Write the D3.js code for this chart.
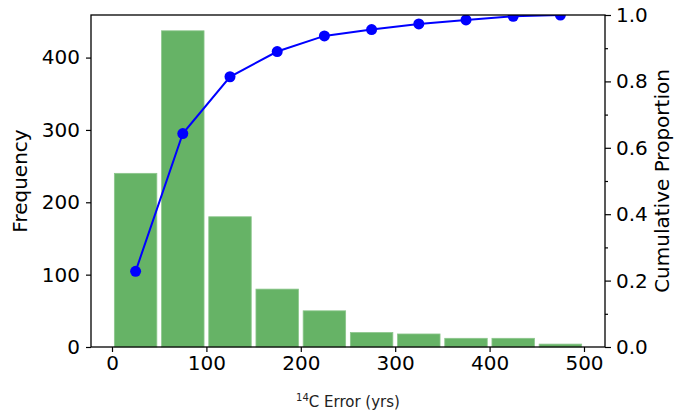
<!DOCTYPE html>
<html>
<head>
<meta charset="utf-8">
<script src="https://cdn.jsdelivr.net/npm/d3@7"></script>
<style>
  html, body { margin: 0; padding: 0; background: #fff; }
  svg { display: block; font-family: "DejaVu Sans", sans-serif; }
</style>
</head>
<body>
<svg id="chart" width="674" height="410"></svg>
<script>
// Histogram bins of 14C measurement error (years)
const binStarts = [0, 50, 100, 150, 200, 250, 300, 350, 400, 450];
const binWidth = 50;
const frequency = [240, 437, 180, 80, 50, 20, 18, 12, 12, 4];
// Cumulative proportion at each bin centre
const cumulative = [0.228, 0.643, 0.814, 0.890, 0.937, 0.956, 0.973, 0.985, 0.996, 1.0];

const xTicks = [0, 100, 200, 300, 400, 500];
const yLeftTicks = [0, 100, 200, 300, 400];
const yRightTicks = [0, 0.2, 0.4, 0.6, 0.8, 1.0];
const yRightMinor = [0.1, 0.3, 0.5, 0.7, 0.9];

const margin = { left: 91, right: 69, top: 15, bottom: 63 };
const W = 674, H = 410;
const plotW = W - margin.left - margin.right;
const plotH = H - margin.top - margin.bottom;

const svg = d3.select("#chart");
const g = svg.append("g").attr("transform", `translate(${margin.left},${margin.top})`);

const x = d3.scaleLinear().domain([-22.25, 522.25]).range([0, plotW]);
const yL = d3.scaleLinear().domain([0, 458.85]).range([plotH, 0]);
const yR = d3.scaleLinear().domain([0, 1]).range([plotH, 0]);

svg.append("defs").append("clipPath").attr("id", "plotClip")
  .append("rect").attr("width", plotW).attr("height", plotH);

// Bars
const barInset = 2.5;
g.append("g").selectAll("rect").data(frequency).join("rect")
  .attr("x", (d, i) => x(binStarts[i] + barInset))
  .attr("width", (d, i) => x(binStarts[i] + binWidth - barInset) - x(binStarts[i] + barInset))
  .attr("y", d => yL(d))
  .attr("height", d => yL(0) - yL(d))
  .attr("fill", "#66b366")
  .attr("stroke", "#8cc68c")
  .attr("stroke-width", 0.8);

// Cumulative line with markers
const centers = binStarts.map(b => b + binWidth / 2);
const lineG = g.append("g").attr("clip-path", "url(#plotClip)");
lineG.append("path")
  .datum(cumulative)
  .attr("fill", "none")
  .attr("stroke", "#0000ff")
  .attr("stroke-width", 2)
  .attr("d", d3.line().x((d, i) => x(centers[i])).y(d => yR(d)));
lineG.selectAll("circle").data(cumulative).join("circle")
  .attr("cx", (d, i) => x(centers[i]))
  .attr("cy", d => yR(d))
  .attr("r", 5.5)
  .attr("fill", "#0000ff");

// Axes
const fontSize = "20px";
function styleAxis(sel) {
  sel.select(".domain").remove();
  sel.selectAll(".tick line").attr("stroke", "#000").attr("stroke-width", 1.2);
  sel.selectAll(".tick text").attr("fill", "#000").style("font-size", fontSize)
    .style("font-family", "DejaVu Sans, sans-serif");
}

g.append("g").attr("transform", `translate(0,${plotH})`)
  .call(d3.axisBottom(x).tickValues(xTicks).tickFormat(d3.format("d")).tickSize(5).tickPadding(4))
  .call(styleAxis);

g.append("g")
  .call(d3.axisLeft(yL).tickValues(yLeftTicks).tickFormat(d3.format("d")).tickSize(5).tickPadding(6))
  .call(styleAxis);

g.append("g").attr("transform", `translate(${plotW},0)`)
  .call(d3.axisRight(yR).tickValues(yRightMinor).tickFormat("").tickSize(3))
  .call(styleAxis);
g.append("g").attr("transform", `translate(${plotW},0)`)
  .call(d3.axisRight(yR).tickValues(yRightTicks).tickFormat(d3.format(".1f")).tickSize(6).tickPadding(5))
  .call(styleAxis);

// Frame
g.append("rect").attr("width", plotW).attr("height", plotH)
  .attr("fill", "none").attr("stroke", "#000").attr("stroke-width", 1.3);

// Axis titles
svg.append("text")
  .attr("transform", `translate(27,${margin.top + plotH / 2}) rotate(-90)`)
  .attr("text-anchor", "middle")
  .style("font-size", fontSize).attr("fill", "#000")
  .text("Frequency");

svg.append("text")
  .attr("transform", `translate(669,${margin.top + plotH / 2}) rotate(-90)`)
  .attr("text-anchor", "middle")
  .style("font-size", fontSize).attr("fill", "#000")
  .text("Cumulative Proportion");

const xt = svg.append("text")
  .attr("x", margin.left + plotW / 2)
  .attr("y", 405)
  .attr("text-anchor", "middle")
  .style("font-size", "15px").attr("fill", "#222");
xt.append("tspan").attr("dy", "-0.4em").style("font-size", "10px").text("14");
xt.append("tspan").attr("dy", "0.4em").text("C Error (yrs)");
</script>
</body>
</html>
